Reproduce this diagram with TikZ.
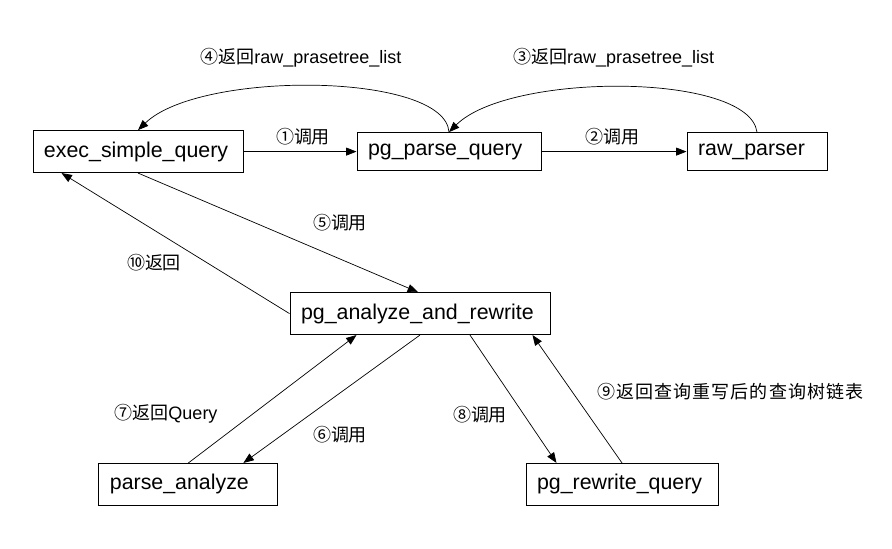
\documentclass[tikz,border=0pt]{standalone}
\usepackage{fontspec}
\setmainfont{Liberation Sans}
\newfontfamily\cjk{Noto Sans CJK SC}
\usetikzlibrary{arrows.meta}

\begin{document}
\begin{tikzpicture}[
  box/.style={draw,line width=0.7pt,inner sep=0.275cm,minimum height=0.925cm,align=left,font=\fontsize{15.2}{18}\selectfont},
  lbl/.style={font=\fontsize{12.8}{15}\selectfont,inner sep=0pt},
  arr/.style={line width=0.5pt,-{Triangle[length=2.6mm,width=2mm]}}
]
\useasboundingbox (0,0) rectangle (22.3,13.7);

% boxes
\node[box,text width=4.7cm] (exec) at (3.45,9.91) {exec\_simple\_query};
\node[box,text width=4.05cm] (pgparse) at (11.225,9.91) {pg\_parse\_query};
\node[box,text width=2.95cm] (raw) at (18.925,9.91) {raw\_parser};
\node[box,text width=5.95cm] (analyze) at (10.5,5.86) {pg\_analyze\_and\_rewrite};
\node[box,text width=3.925cm] (parse) at (4.71,1.59) {parse\_analyze};
\node[box,text width=4.25cm] (rewrite) at (15.55,1.59) {pg\_rewrite\_query};

% calls and returns
\draw[arr] (exec.east) -- (pgparse.west);
\draw[arr] (pgparse.east) -- (raw.west);
\draw[arr] (raw.north) .. controls +(-0.2,1.5) and +(1.5,1.5) .. (pgparse.north);
\draw[arr] (pgparse.north) .. controls +(-0.1,1.5) and +(1.55,1.5) .. (exec.north);
\draw[arr] (exec.south) -- ([xshift=-0.05cm]analyze.north);
\draw[arr] (analyze.west) -- ([xshift=0.725cm]exec.south west);
\draw[arr] (analyze.south) -- ([xshift=-0.875cm]parse.north east);
\draw[arr] (parse.north) -- ([xshift=1.675cm]analyze.south west);
\draw[arr] ([xshift=1.25cm]analyze.south) -- ([xshift=0.775cm]rewrite.north west);
\draw[arr] (rewrite.north) -- ([xshift=-0.45cm]analyze.south east);

% labels
\node[lbl] (l1) at (7.575,10.275) {\cjk ①调用};
\node[lbl] (l2) at (15.3,10.275) {\cjk ②调用};
\node[lbl] (l3) at (15.34,12.25) {{\cjk ③返回}raw\_prasetree\_list};
\node[lbl] (l4) at (7.525,12.25) {{\cjk ④返回}raw\_prasetree\_list};
\node[lbl] (l5) at (8.5,8.125) {\cjk ⑤调用};
\node[lbl] (l6) at (8.5,2.825) {\cjk ⑥调用};
\node[lbl] (l7) at (4.15,3.35) {{\cjk ⑦返回}Query};
\node[lbl] (l8) at (12.0,3.325) {\cjk ⑧调用};
\node[lbl] (l9) at (18.26,3.9) {\cjk\addfontfeatures{LetterSpace=6}⑨返回查询重写后的查询树链表};
\node[lbl] (l10) at (3.85,7.125) {\cjk ⑩返回};

\end{tikzpicture}
\end{document}
